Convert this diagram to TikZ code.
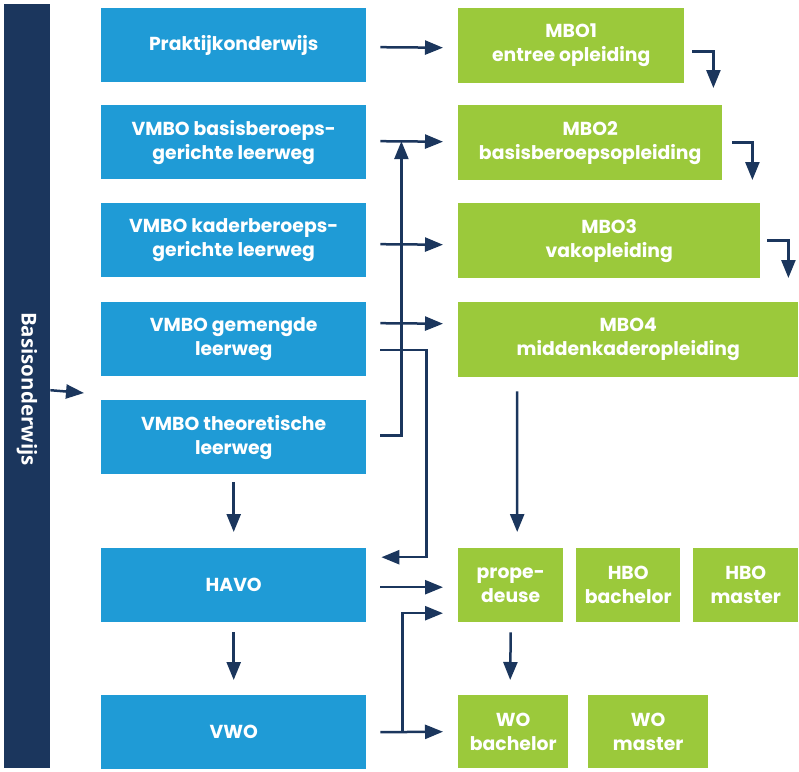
\documentclass[tikz,border=0pt]{standalone}
\usepackage{fontspec}
\setmainfont{Poppins}
\newfontfamily\balkfont{Open Sans}
\usetikzlibrary{arrows.meta,calc}
\definecolor{donker}{RGB}{27,54,93}
\definecolor{blauw}{RGB}{31,155,214}
\definecolor{groen}{RGB}{155,201,59}
\tikzset{
  blok/.style={anchor=north west, inner sep=0pt, align=center, text=white,
    font=\bfseries\fontsize{18.8}{24}\selectfont},
  vo/.style={blok, fill=blauw, minimum width=265pt, minimum height=74pt},
  mbo/.style={blok, fill=groen, minimum height=75pt},
  ho/.style={blok, fill=groen, minimum height=74pt},
  pijl/.style={draw=donker, line width=2.5pt, -{Triangle[length=18pt,width=14pt]}},
  lijn/.style={draw=donker, line width=2.5pt}
}
\begin{document}
\begin{tikzpicture}[x=1pt,y=-1pt]
\useasboundingbox (0,0) rectangle (799,771);
% basisonderwijs
\node[fill=donker, anchor=north west, minimum width=46pt, minimum height=764pt, inner sep=0pt] (bo) at (4,4) {};
\node[rotate=-90, text=white, font=\balkfont\bfseries\fontsize{20.5}{22}\selectfont] (botekst) at (27,389) {Basisonderwijs};
\coordinate (vostart) at (84,393);
% voortgezet onderwijs
\node[vo] (prak) at (101,8) {Praktijkonderwijs};
\node[vo] (vbb) at (101,105) {VMBO basisberoeps-\\gerichte leerweg};
\node[vo] (vkb) at (101,203) {VMBO kaderberoeps-\\gerichte leerweg};
\node[vo] (vgl) at (101,302) {VMBO gemengde\\leerweg};
\node[vo] (vtl) at (101,400) {VMBO theoretische\\leerweg};
\node[vo] (havo) at (101,548) {HAVO};
\node[vo] (vwo) at (101,695) {VWO};
% mbo
\node[mbo, minimum width=226pt] (mbo1) at (458,8) {MBO1\\entree opleiding};
\node[mbo, minimum width=264pt] (mbo2) at (458,105) {MBO2\\basisberoepsopleiding};
\node[mbo, minimum width=302pt] (mbo3) at (458,203) {MBO3\\vakopleiding};
\node[mbo, minimum width=340pt] (mbo4) at (458,302) {MBO4\\middenkaderopleiding};
% hbo en wo
\node[ho, minimum width=105pt] (prop) at (458,548) {prope-\\deuse};
\node[ho, minimum width=104pt] (hbob) at (576,548) {HBO\\bachelor};
\node[ho, minimum width=105pt] (hbom) at (693,548) {HBO\\master};
\node[ho, minimum width=110pt, minimum height=73pt] (wob) at (458,695) {WO\\bachelor};
\node[ho, minimum width=120pt, minimum height=73pt] (wom) at (588,695) {WO\\master};
% pijlen
\draw[pijl] ($(bo.east)+(0,4)$) -- (vostart);
\draw[pijl] ($(prak.east)+(14,2)$) -- ($(mbo1.west)+(-15,2)$);
\draw[pijl] ($(vbb.east)+(14,-1)$) -- ($(mbo2.west)+(-15,-1)$);
\draw[pijl] ($(vkb.east)+(14,4)$) -- ($(mbo3.west)+(-15,4)$);
\draw[pijl] ($(vgl.east)+(14,-16)$) -- ($(mbo4.west)+(-15,-16)$);
\draw[pijl] ($(vtl.east)+(14,-1.5)$) -| ($(vbb.east)+(35,-1)$);
\draw[pijl] ($(vgl.east)+(14,11)$) -| ($(havo.east)+(60,-28)$) -- ($(havo.east)+(15,-28)$);
\draw[pijl] ($(havo.east)+(14,2)$) -- ($(prop.west)+(-15,2)$);
\draw[pijl] ($(vwo.east)+(14,0)$) -- ($(wob.west)+(-15,0)$);
\draw[pijl] ($(vwo.east)+(36,0)$) |- ($(prop.west)+(-15,28)$);
\draw[pijl] ($(mbo1.east)+(8,6)$) -| ($(mbo2.north east)+(-9,-17)$);
\draw[pijl] ($(mbo2.east)+(10,0)$) -| ($(mbo3.north east)+(-8,-23)$);
\draw[pijl] ($(mbo3.east)+(7,0)$) -| ($(mbo4.north east)+(-10,-24)$);
\draw[pijl] ($(mbo4.south west)+(59,14)$) -- ($(prop.north)+(6.5,-16)$);
\draw[pijl] ($(vtl.south)+(0,8)$) -- ($(havo.north)+(0,-16)$);
\draw[pijl] ($(havo.south)+(0,10)$) -- ($(vwo.north)+(0,-15)$);
\draw[pijl] ($(prop.south)+(0,10)$) -- ($(wob.north)+(-3,-15)$);
\end{tikzpicture}
\end{document}
